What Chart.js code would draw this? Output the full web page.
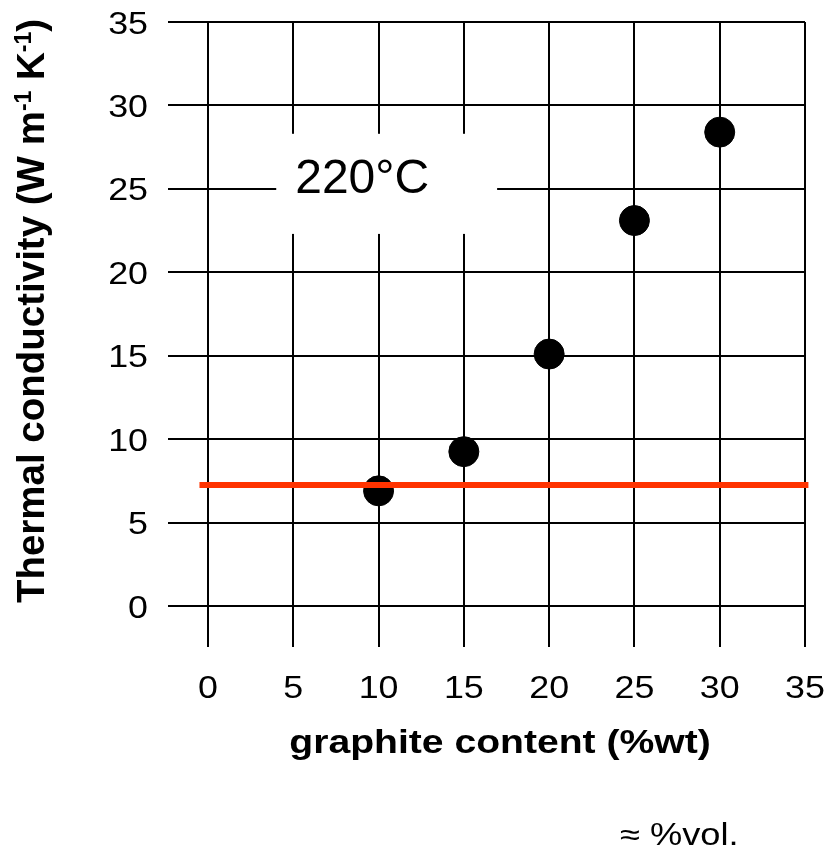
<!DOCTYPE html>
<html>
<head>
<meta charset="utf-8">
<script src="https://cdn.jsdelivr.net/npm/chart.js@4.4.1/dist/chart.umd.min.js"></script>
<style>
  html, body { margin: 0; padding: 0; background: #fff; }
  #wrap { width: 825px; height: 851px; position: relative; }
</style>
</head>
<body>
<div id="wrap"><canvas id="c" width="825" height="851"></canvas></div>
<script>
// ---- data ----
const graphiteContent = [10, 15, 20, 25, 30];          // %wt
const conductivity = [6.9, 9.25, 15.1, 23.1, 28.4];   // W m-1 K-1
const refLineX = [-0.5, 35.2];
const refLineY = [7.25, 7.25];
const xTicks = [0, 5, 10, 15, 20, 25, 30, 35];
const yTicks = [0, 5, 10, 15, 20, 25, 30, 35];
const tempLabel = "220°C";
const tempBoxX = [4.0, 16.95];
const tempBoxY = [22.3, 28.3];
const xTitle = "graphite content (%wt)";
const yTitleParts = [["Thermal conductivity (W m", false], ["-1", true], [" K", false], ["-1", true], [")", false]];
const noteText = "≈ %vol.";

const FONT = "'Liberation Sans', Arial, sans-serif";

function stretchText(ctx, text, x, y, align, font, sx) {
  ctx.save();
  ctx.translate(x, y);
  ctx.scale(sx, 1);
  ctx.font = font;
  ctx.textAlign = align;
  ctx.textBaseline = 'alphabetic';
  ctx.fillText(text, 0, 0);
  ctx.restore();
}

const textPlugin = {
  id: 'texts',
  afterDraw(chart) {
    const ctx = chart.ctx;
    const xs = chart.scales.x, ys = chart.scales.y;
    ctx.save();
    ctx.fillStyle = '#000';
    // tick labels (drawn from the library's scales)
    const tickFont = "32px " + FONT;
    xs.ticks.forEach(t => {
      stretchText(ctx, String(t.value), xs.getPixelForValue(t.value), 698, 'center', tickFont, 1.12);
    });
    ys.ticks.forEach(t => {
      stretchText(ctx, String(t.value), 148, ys.getPixelForValue(t.value) + 11.5, 'right', tickFont, 1.12);
    });

    // temperature label box
    const bx0 = xs.getPixelForValue(tempBoxX[0]), bx1 = xs.getPixelForValue(tempBoxX[1]);
    const by0 = ys.getPixelForValue(tempBoxY[1]), by1 = ys.getPixelForValue(tempBoxY[0]);
    ctx.fillStyle = '#fff';
    ctx.fillRect(bx0, by0, bx1 - bx0, by1 - by0);
    ctx.fillStyle = '#000';
    ctx.font = "48px " + FONT;
    ctx.textAlign = 'left';
    ctx.textBaseline = 'alphabetic';
    ctx.fillText(tempLabel, bx0 + 19, by0 + 59);

    // x title
    stretchText(ctx, xTitle, 500, 753, 'center', "bold 34px " + FONT, 1.15);

    // note
    stretchText(ctx, noteText, 620, 845, 'left', "31px " + FONT, 1.17);

    // y title (rotated, with superscripts)
    const bigSize = 38.5, smallSize = 23;
    const big = "bold " + bigSize + "px " + FONT, small = "bold " + smallSize + "px " + FONT;
    let total = 0;
    for (const [t, sup] of yTitleParts) { ctx.font = sup ? small : big; total += ctx.measureText(t).width; }
    ctx.translate(44, 311);
    ctx.rotate(-Math.PI / 2);
    let x = -total / 2;
    ctx.textAlign = 'left';
    for (const [t, sup] of yTitleParts) {
      ctx.font = sup ? small : big;
      ctx.fillText(t, x, sup ? -13 : 0);
      x += ctx.measureText(t).width;
    }
    ctx.restore();
  }
};

new Chart(document.getElementById('c'), {
  type: 'scatter',
  data: {
    datasets: [
      {
        type: 'line',
        data: refLineX.map((v, i) => ({ x: v, y: refLineY[i] })),
        borderColor: '#ff3300',
        borderWidth: 6,
        pointRadius: 0,
        clip: false,
        order: 0
      },
      {
        data: graphiteContent.map((v, i) => ({ x: v, y: conductivity[i] })),
        backgroundColor: '#000',
        borderColor: '#000',
        pointRadius: 15,
        pointHoverRadius: 15,
        order: 1
      }
    ]
  },
  options: {
    responsive: false,
    animation: false,
    events: [],
    layout: { padding: { top: 22, right: 20, left: 0, bottom: 0 } },
    plugins: { legend: { display: false }, tooltip: { enabled: false } },
    scales: {
      x: {
        type: 'linear', min: 0, max: 35,
        afterBuildTicks: s => { s.ticks = xTicks.map(v => ({ value: v })); },
        afterFit: s => { s.height = 245; },
        grid: { color: '#000', lineWidth: 2, tickLength: 41, drawTicks: true },
        border: { display: false },
        ticks: { display: false }
      },
      y: {
        type: 'linear', min: 0, max: 35,
        afterBuildTicks: s => { s.ticks = yTicks.map(v => ({ value: v })); },
        afterFit: s => { s.width = 208; },
        grid: { color: '#000', lineWidth: 2, tickLength: 40, drawTicks: true },
        border: { display: false },
        ticks: { display: false }
      }
    }
  },
  plugins: [textPlugin]
});
</script>
</body>
</html>
